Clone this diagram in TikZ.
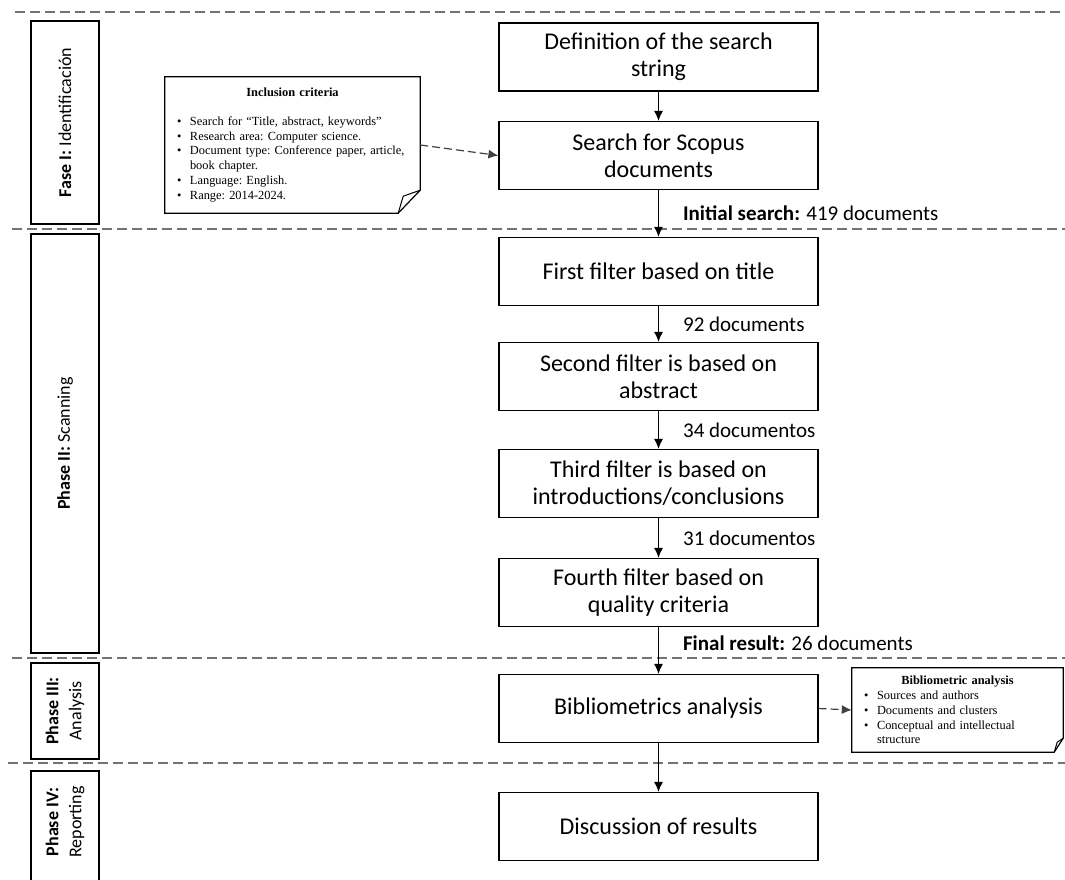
\documentclass[tikz,border=0pt]{standalone}
\usepackage{fontspec}
\setmainfont{Carlito}
\newfontfamily\notefont{Liberation Serif}
\usetikzlibrary{arrows.meta}

\newcommand{\itm}[1]{\makebox[13pt][l]{\textbullet}#1}

\begin{document}
\begin{tikzpicture}[x=1pt, y=-1pt,
    box/.style={draw, line width=1.2pt, minimum width=319pt, minimum height=68pt,
      inner sep=0pt, align=center, font=\fontsize{24}{27}\selectfont},
    phase/.style={draw, line width=1.2pt, rotate=90, minimum height=68pt,
      inner sep=0pt, align=center, font=\fontsize{18}{23}\selectfont},
    lbl/.style={anchor=west, xshift=24pt, inner sep=0pt, font=\fontsize{21}{25}\selectfont},
    note/.style={inner xsep=12pt, inner ysep=0pt, align=left,
      font=\notefont\fontsize{12.4}{14.8}\selectfont\frenchspacing},
    arr/.style={-{Latex[length=10pt,width=9pt]}, line width=1.2pt},
    dasharr/.style={arr, dash pattern=on 8pt off 4pt, draw=black!75},
    sep/.style={dash pattern=on 10pt off 5pt, line width=1.3pt, draw=black!55}]
  \useasboundingbox (0,0) rectangle (1065,879);

  % phase separators
  \draw[sep] (15,12) -- (1065,12);
  \draw[sep] (12,229) -- (1065,229);
  \draw[sep] (12,658) -- (1065,658);
  \draw[sep] (8,763) -- (1065,763);

  % phases
  \node[phase, minimum width=203pt] (p1) at (65,122.5) {\textbf{Fase I:} Identificación};
  \node[phase, minimum width=419pt] (p2) at (65,443.5) {\textbf{Phase II:} Scanning};
  \node[phase, minimum width=96pt]  (p3) at (65,711) {\textbf{Phase III:}\\Analysis};
  \node[phase, minimum width=120pt] (p4) at (65,831) {};
  \node[rotate=90, align=center, font=\fontsize{18}{23}\selectfont] (p4t) at (65,822)
    {\textbf{Phase IV:}\\Reporting};

  % main flow
  \node[box] (def)    at (658.5,57)    {Definition of the search\\string};
  \node[box] (search) at (658.5,155.5) {Search for Scopus\\documents};
  \node[box] (f1)     at (658.5,271.5) {First filter based on title};
  \node[box] (f2)     at (658.5,376.5) {Second filter is based on\\abstract};
  \node[box] (f3)     at (658.5,483.5) {Third filter is based on\\introductions/conclusions};
  \node[box] (f4)     at (658.5,592.5) {Fourth filter based on\\quality criteria};
  \node[box] (biblio) at (658.5,708.5) {Bibliometrics analysis};
  \node[box] (disc)   at (658.5,826.5) {Discussion of results};

  % notes
  \node[note, text width=231pt, minimum height=136pt] (incl) at (292.5,145) {%
    \makebox[\linewidth]{\bfseries Inclusion criteria}\\[14pt]
    \itm{Search for “Title, abstract, keywords”}\\
    \itm{Research area: Computer science.}\\
    \itm{Document type: Conference paper, article,}\\
    \hspace*{13pt}book chapter.\\
    \itm{Language: English.}\\
    \itm{Range: 2014-2024.}};
  \draw[line width=1.2pt] (incl.north west) -- (incl.north east)
    -- ([yshift=23pt]incl.south east) -- ([xshift=-22pt]incl.south east)
    -- (incl.south west) -- cycle;
  \draw[line width=1pt] ([yshift=23pt]incl.south east)
    -- ([xshift=-17pt,yshift=17pt]incl.south east) -- ([xshift=-22pt]incl.south east);

  \node[note, text width=187pt, minimum height=84pt] (bnote) at (957.5,710) {%
    \makebox[\linewidth]{\bfseries Bibliometric analysis}\\
    \itm{Sources and authors}\\
    \itm{Documents and clusters}\\
    \itm{Conceptual and intellectual}\\
    \hspace*{13pt}structure};
  \draw[line width=1.2pt] (bnote.north west) -- (bnote.north east)
    -- ([yshift=14pt]bnote.south east) -- ([xshift=-9pt]bnote.south east)
    -- (bnote.south west) -- cycle;
  \draw[line width=1pt] ([yshift=14pt]bnote.south east)
    -- ([xshift=-6pt,yshift=10pt]bnote.south east) -- ([xshift=-9pt]bnote.south east);

  % connectors
  \draw[arr] (def) -- (search);
  \draw[arr] (search) -- node[lbl] {\textbf{Initial search:} 419 documents} (f1);
  \draw[arr] (f1) -- node[lbl] {92 documents} (f2);
  \draw[arr] (f2) -- node[lbl] {34 documentos} (f3);
  \draw[arr] (f3) -- node[lbl] {31 documentos} (f4);
  \draw[arr] (f4) -- node[lbl, pos=0.35] {\textbf{Final result:} 26 documents} (biblio);
  \draw[arr] (biblio) -- (disc);
  \draw[dasharr] (incl.east) -- (search.west);
  \draw[dasharr] (biblio.east) -- (bnote.west);
\end{tikzpicture}
\end{document}
